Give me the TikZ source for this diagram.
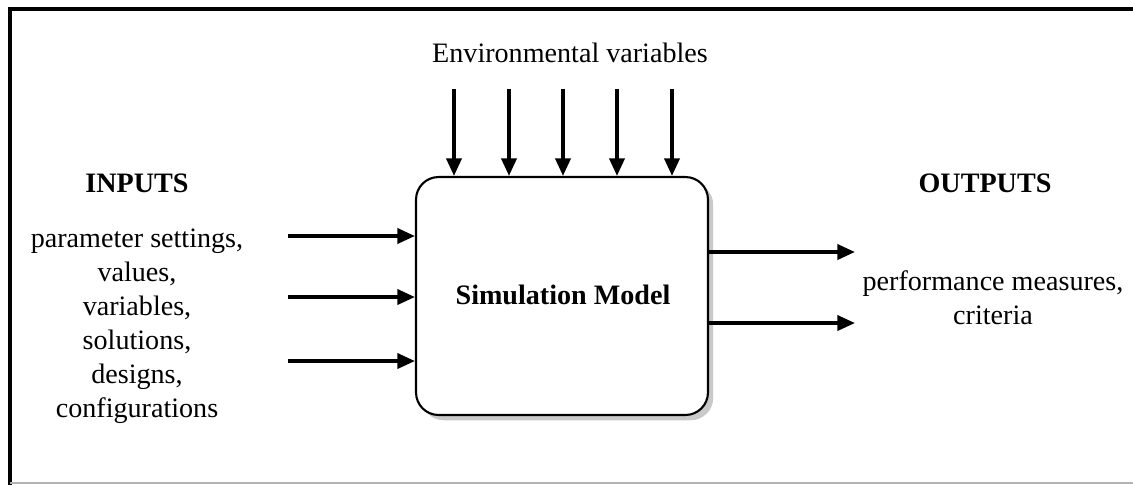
\documentclass[tikz,border=0pt]{standalone}
\usepackage{fontspec}
\setmainfont{Liberation Serif}
\usepackage{tikz}
\usetikzlibrary{arrows.meta,shadows,positioning}

\tikzset{
  txt/.style={font=\fontsize{16}{19.3}\selectfont, align=center, inner sep=0pt},
  head/.style={txt, font=\fontsize{16}{19.3}\selectfont\bfseries},
  flow/.style={line width=2.1pt, -{Triangle[length=10pt,width=8.5pt]}},
  modelbox/.style={draw, line width=1.2pt, fill=white, rounded corners=0.45cm,
    minimum width=5.84cm, minimum height=4.76cm, inner sep=0pt,
    drop shadow={shadow xshift=3pt, shadow yshift=-3pt, fill=black!30, opacity=.7}}
}

\begin{document}
\begin{tikzpicture}[x=0.02cm, y=-0.02cm]
  \useasboundingbox (0,0) rectangle (1133,485);

  % Frame (cut at the right)
  \draw[line width=2.2pt] (10,485) -- (10,9) -- (1133,9);
  \draw[black!30, line width=0.6pt] (10,483) -- (1133,483);

  % Model
  \node[modelbox] (model) at (562,296) {};
  \node[head] (modeltxt) at (563,295) {Simulation Model};

  % Environmental variables
  \node[txt] (envtxt) at (570,53) {Environmental variables};
  \foreach \x [count=\i] in {454,509,563,617,672} {
    \coordinate (env\i) at (\x,89);
    \draw[flow] (env\i) -- (env\i |- model.north);
  }

  % Inputs
  \node[head] (inhead) at (137,183) {INPUTS};
  \node[txt] (intxt) at (137,326) {parameter settings,\\ values,\\ variables,\\
    solutions,\\ designs,\\ configurations};
  \foreach \y [count=\i] in {236,297,361} {
    \coordinate (in\i) at (288,\y);
    \draw[flow] (in\i) -- (in\i -| model.west);
  }

  % Outputs
  \node[head] (outhead) at (985,183) {OUTPUTS};
  \node[txt] (outtxt) at (993,298) {performance measures,\\ criteria};
  \foreach \y [count=\i] in {252,323} {
    \coordinate (out\i) at (855,\y);
    \draw[flow] (out\i -| model.east) -- (out\i);
  }
\end{tikzpicture}
\end{document}
